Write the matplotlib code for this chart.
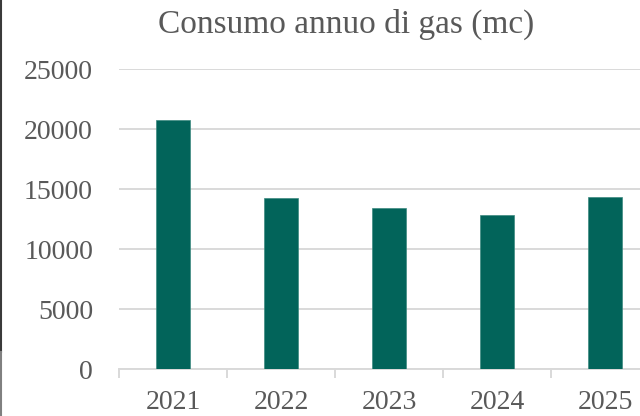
import matplotlib
matplotlib.use("Agg")
import matplotlib.pyplot as plt
from matplotlib.lines import Line2D
import numpy as np

years = ["2021", "2022", "2023", "2024", "2025"]
consumo = [20750, 14280, 13420, 12860, 14390]
yticks = [0, 5000, 10000, 15000, 20000, 25000]
title = "Consumo annuo di gas (mc)"

W, H = 640, 416
fig = plt.figure(figsize=(W / 100, H / 100), dpi=100)
plt.rcParams['font.family'] = ['Liberation Serif', 'DejaVu Serif']

txt = "#595959"
grid = "#d9d9d9"
bar_c = "#02645a"

left, right = 119, 659
bottom, top = 369.3, 69.3
ax = fig.add_axes([left / W, 1 - bottom / H, (right - left) / W, (bottom - top) / H])

x = np.arange(len(years))
ax.bar(x, consumo, width=0.31, color=bar_c, edgecolor="#3d8a80", linewidth=0.5, zorder=3)

ax.set_xlim(-0.5, len(years) - 0.5)
ax.set_ylim(0, 25000)
ax.set_yticks(yticks)
ax.set_yticklabels([str(v) for v in yticks])
ax.set_xticks(x)
ax.set_xticklabels(years)
ax.set_xticks(np.arange(-0.5, len(years) + 0.5, 1), minor=True)

ax.tick_params(axis='y', length=0, pad=18.7, labelsize=20, labelcolor=txt)
ax.tick_params(axis='x', which='major', length=0, pad=15, labelsize=20, labelcolor=txt)
ax.tick_params(axis='x', which='minor', length=6.5, width=1.4, color=grid, direction='out')

ax.yaxis.grid(True, color=grid, linewidth=1.4, zorder=0)
ax.set_axisbelow(True)
for s in ['left', 'right', 'top']:
    ax.spines[s].set_visible(False)
ax.spines['bottom'].set_color(grid)
ax.spines['bottom'].set_linewidth(1.4)

fig.text(346 / W, 1 - 33 / H, title, ha='center', va='baseline', fontsize=24, color=txt)

fig.add_artist(Line2D([1 / W, 1 / W], [1 - 352 / H, 1], color="#3a3a3a", linewidth=1.5))
fig.add_artist(Line2D([1 / W, 1 / W], [0, 1 - 352 / H], color="#808080", linewidth=1.5))

fig.savefig("out.png", dpi=100)
